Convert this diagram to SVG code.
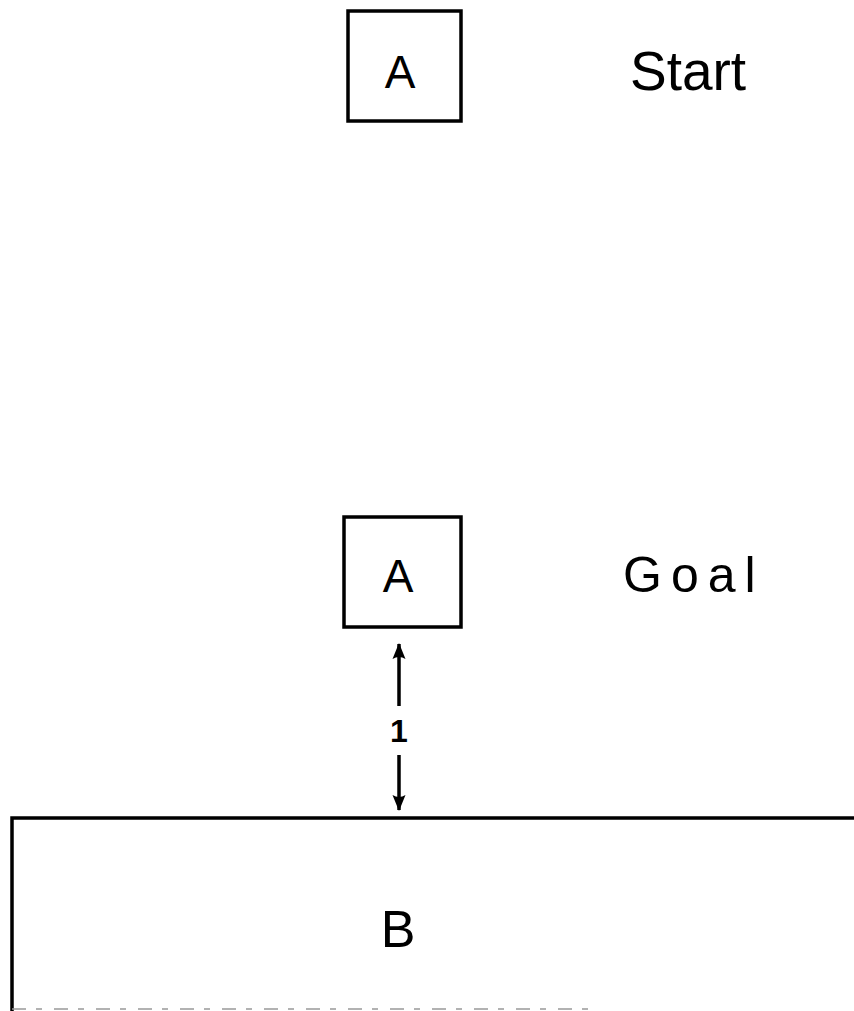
<svg xmlns="http://www.w3.org/2000/svg" width="854" height="1011" viewBox="0 0 854 1011">
  <style>
    .box { fill: #ffffff; stroke: #000000; stroke-width: 3.5; }
    .lbl { font-family: "Liberation Sans", "DejaVu Sans", sans-serif; fill: #000000; text-anchor: middle; }
    .note { font-family: "Liberation Sans", "DejaVu Sans", sans-serif; fill: #000000; }
    .conn { stroke: #000000; stroke-width: 3.5; fill: none; }
  </style>
  <defs>
    <marker id="arrowhead" viewBox="0 0 16 14" refX="15" refY="7" markerWidth="16" markerHeight="14" markerUnits="userSpaceOnUse" orient="auto">
      <path d="M0,0.5 L16,7 L0,13.5 Q4,7 0,0.5 Z" fill="#000000"/>
    </marker>
  </defs>
  <rect x="0" y="0" width="854" height="1011" fill="#ffffff"/>

  <g id="node-start-A">
    <rect class="box" x="348" y="11" width="113" height="110"/>
    <text class="lbl" x="400" y="88" font-size="46">A</text>
  </g>
  <g id="label-start">
    <text class="note" x="630" y="90" font-size="55">Start</text>
  </g>

  <g id="node-goal-A">
    <rect class="box" x="344" y="517" width="117" height="110"/>
    <text class="lbl" x="398" y="592" font-size="46">A</text>
  </g>
  <g id="label-goal">
    <text class="note" x="623" y="592" font-size="50" letter-spacing="9">Goal</text>
  </g>

  <g id="node-B">
    <path class="conn" d="M856,818 H12 V1011"/>
    <line x1="12" y1="1009" x2="600" y2="1009" stroke="#999999" stroke-width="1.5" stroke-dasharray="14 10 6 12"/>
    <text class="lbl" x="398" y="947" font-size="52">B</text>
  </g>

  <g id="connectors">
    <line class="conn" x1="399" y1="706" x2="399" y2="644" marker-end="url(#arrowhead)"/>
    <line class="conn" x1="399" y1="755" x2="399" y2="810" marker-end="url(#arrowhead)"/>
    <text class="lbl" x="399" y="742" font-size="32" font-weight="bold">1</text>
  </g>
</svg>
